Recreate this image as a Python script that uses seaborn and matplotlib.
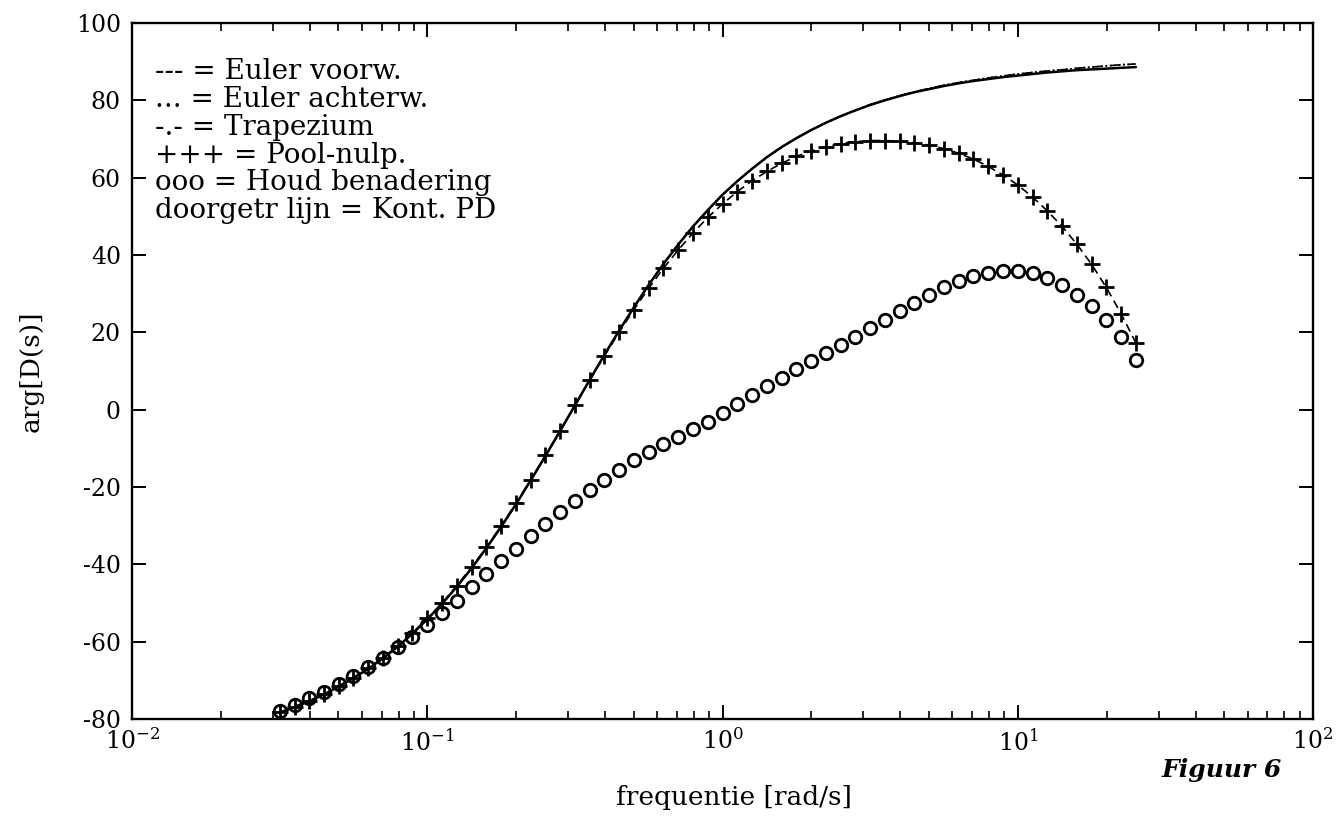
import numpy as np
import pandas as pd
import matplotlib
matplotlib.use("Agg")
import matplotlib.pyplot as plt
import seaborn as sns
from matplotlib.ticker import FixedLocator, NullFormatter

# ---- data ----
freq = [0.0316, 0.0355, 0.0398, 0.0447, 0.0501, 0.0562, 0.0631, 0.0708, 0.0794, 0.0891,
        0.1000, 0.1122, 0.1259, 0.1413, 0.1585, 0.1778, 0.1995, 0.2239, 0.2512, 0.2818,
        0.3162, 0.3548, 0.3981, 0.4467, 0.5012, 0.5623, 0.6310, 0.7079, 0.7943, 0.8913,
        1.000, 1.122, 1.259, 1.413, 1.585, 1.778, 1.995, 2.239, 2.512, 2.818,
        3.162, 3.548, 3.981, 4.467, 5.012, 5.623, 6.310, 7.079, 7.943, 8.913,
        10.00, 11.22, 12.59, 14.13, 15.85, 17.78, 19.95, 22.39, 25.12]

kont_pd = [-78.4, -76.9, -75.4, -73.6, -71.6, -69.4, -67.0, -64.3, -61.3, -57.9,
           -54.2, -50.2, -45.8, -41.0, -35.8, -30.3, -24.5, -18.3, -12.0, -5.5,
           1.1, 7.7, 14.2, 20.5, 26.5, 32.3, 37.7, 42.7, 47.4, 51.6,
           55.6, 59.1, 62.3, 65.3, 67.9, 70.2, 72.3, 74.2, 75.9, 77.4,
           78.8, 80.0, 81.1, 82.1, 82.9, 83.7, 84.4, 85.0, 85.5, 86.0,
           86.4, 86.8, 87.2, 87.5, 87.8, 88.0, 88.2, 88.4, 88.6]

euler_voorw = [-78.3, -76.8, -75.3, -73.5, -71.5, -69.3, -66.8, -64.1, -61.1, -57.7,
               -54.0, -50.0, -45.5, -40.7, -35.6, -30.1, -24.2, -18.1, -11.8, -5.4,
               1.1, 7.6, 13.9, 20.0, 25.9, 31.4, 36.6, 41.3, 45.7, 49.7,
               53.2, 56.4, 59.2, 61.6, 63.7, 65.5, 66.9, 68.0, 68.8, 69.3,
               69.6, 69.6, 69.4, 69.0, 68.4, 67.5, 66.3, 64.8, 62.9, 60.7,
               58.1, 55.0, 51.4, 47.4, 42.8, 37.6, 31.6, 24.8, 17.3]

euler_achterw = [-78.4, -76.9, -75.4, -73.6, -71.6, -69.4, -67.0, -64.3, -61.3, -57.9,
                 -54.2, -50.2, -45.8, -41.0, -35.8, -30.3, -24.5, -18.3, -12.0, -5.5,
                 1.1, 7.7, 14.2, 20.5, 26.5, 32.3, 37.7, 42.7, 47.4, 51.6,
                 55.6, 59.1, 62.3, 65.3, 67.9, 70.2, 72.3, 74.2, 75.9, 77.4,
                 78.9, 80.1, 81.2, 82.2, 83.1, 83.9, 84.6, 85.2, 85.8, 86.3,
                 86.8, 87.2, 87.6, 87.9, 88.3, 88.6, 88.9, 89.2, 89.4]

trapezium = [-78.4, -76.9, -75.4, -73.6, -71.6, -69.4, -67.0, -64.3, -61.3, -57.9,
             -54.2, -50.2, -45.8, -41.0, -35.8, -30.3, -24.5, -18.3, -12.0, -5.5,
             1.1, 7.7, 14.2, 20.5, 26.5, 32.3, 37.7, 42.7, 47.4, 51.6,
             55.6, 59.1, 62.3, 65.3, 67.9, 70.2, 72.3, 74.2, 75.9, 77.4,
             78.9, 80.1, 81.2, 82.2, 83.1, 83.9, 84.6, 85.2, 85.8, 86.3,
             86.8, 87.2, 87.6, 87.9, 88.3, 88.6, 88.9, 89.2, 89.4]

pool_nulp = [-78.3, -76.8, -75.3, -73.5, -71.5, -69.3, -66.8, -64.1, -61.1, -57.7,
             -54.0, -50.0, -45.5, -40.7, -35.6, -30.1, -24.2, -18.1, -11.8, -5.4,
             1.1, 7.6, 13.9, 20.0, 25.9, 31.4, 36.6, 41.3, 45.7, 49.7,
             53.2, 56.4, 59.2, 61.6, 63.7, 65.5, 66.9, 68.0, 68.8, 69.3,
             69.6, 69.6, 69.4, 69.0, 68.4, 67.5, 66.3, 64.8, 62.9, 60.7,
             58.1, 55.0, 51.4, 47.4, 42.8, 37.6, 31.6, 24.8, 17.3]

houd = [-77.8, -76.3, -74.5, -72.9, -71.0, -68.9, -66.6, -64.3, -61.5, -58.7,
        -55.7, -52.7, -49.4, -45.9, -42.5, -39.2, -36.0, -32.7, -29.6, -26.5,
        -23.5, -20.8, -18.1, -15.6, -13.1, -10.9, -9.0, -7.0, -5.1, -3.1,
        -0.9, 1.4, 3.7, 6.0, 8.2, 10.4, 12.5, 14.6, 16.7, 18.9,
        21.1, 23.3, 25.5, 27.7, 29.7, 31.6, 33.4, 34.6, 35.4, 35.9,
        35.9, 35.3, 34.0, 32.2, 29.7, 26.8, 23.2, 18.7, 12.8]

legend_lines = ["--- = Euler voorw.",
                "... = Euler achterw.",
                "-.- = Trapezium",
                "+++ = Pool-nulp.",
                "ooo = Houd benadering",
                "doorgetr lijn = Kont. PD"]

yticks = [-80, -60, -40, -20, 0, 20, 40, 60, 80, 100]
xticks = [1e-2, 1e-1, 1e0, 1e1, 1e2]
xticklabels = [r"$10^{-2}$", r"$10^{-1}$", r"$10^{0}$", r"$10^{1}$", r"$10^{2}$"]
minor_subs = [2, 3, 4, 5, 6, 7, 8, 9]

# ---- styling ----
sns.set_style("ticks")
plt.rcParams["font.family"] = ["DejaVu Serif"]
plt.rcParams["mathtext.fontset"] = "dejavuserif"
for key in ["text.color", "axes.labelcolor", "xtick.color", "ytick.color", "axes.edgecolor"]:
    plt.rcParams[key] = "black"

fig = plt.figure(figsize=(13.42, 8.30), dpi=100)
ax = fig.add_axes([0.0984, 0.1337, 0.8800, 0.8386])

df = pd.DataFrame({"freq": freq, "kont": kont_pd, "ev": euler_voorw, "ea": euler_achterw,
                   "tr": trapezium, "pn": pool_nulp, "hb": houd})

common = dict(ax=ax, color="black", sort=False, estimator=None)
sns.lineplot(data=df, x="freq", y="kont", lw=1.8, **common)
sns.lineplot(data=df, x="freq", y="ea", lw=1.2, linestyle=":", **common)
sns.lineplot(data=df, x="freq", y="tr", lw=1.2, linestyle="-.", **common)
sns.lineplot(data=df, x="freq", y="ev", lw=1.2, linestyle=(0, (5, 3)), **common)
sns.lineplot(data=df, x="freq", y="pn", marker="+", linestyle="none",
             markersize=12, mew=2.0, mec="black", **common)
sns.lineplot(data=df, x="freq", y="hb", marker="o", linestyle="none",
             markersize=9, mew=2.0, mec="black", mfc="none", **common)

ax.set_xscale("log")
ax.set_xlim(1e-2, 1e2)
ax.set_ylim(-80, 100)
ax.set_yticks(yticks)
ax.set_yticklabels([str(v) for v in yticks])
ax.xaxis.set_major_locator(FixedLocator(xticks))
ax.set_xticklabels(xticklabels)
minor_pos = [m * d for d in xticks[:-1] for m in minor_subs]
ax.xaxis.set_minor_locator(FixedLocator(minor_pos))
ax.xaxis.set_minor_formatter(NullFormatter())

ax.tick_params(axis="both", which="major", direction="in", length=10, width=1.4,
               top=True, right=True, labelsize=17, colors="black")
ax.tick_params(axis="y", which="major", pad=8)
ax.tick_params(axis="x", which="major", pad=7)
ax.tick_params(axis="x", which="minor", direction="in", length=6, width=1.2,
               top=True, bottom=True, colors="black")
for s in ax.spines.values():
    s.set_linewidth(1.7)
    s.set_color("black")

ax.set_xlabel("frequentie [rad/s]", fontsize=19)
ax.xaxis.set_label_coords(0.51, -0.095)
ax.set_ylabel("arg[D(s)]", fontsize=19)
ax.yaxis.set_label_coords(-0.075, 0.5)

for i, txt in enumerate(legend_lines):
    ax.text(0.0195, 0.9296 - i * 0.0398, txt, transform=ax.transAxes, fontsize=20,
            va="center", ha="left")

fig.text(0.91, 0.0723, "Figuur 6", fontsize=18, fontweight="bold", fontstyle="italic",
         ha="center", va="center")

fig.savefig("out.png", dpi=100)
